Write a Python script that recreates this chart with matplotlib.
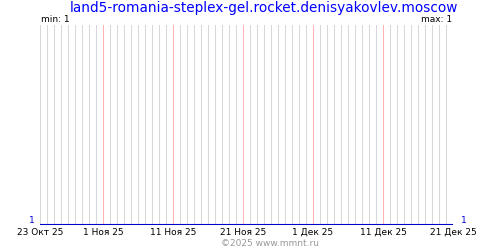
import matplotlib
matplotlib.use("Agg")
import matplotlib.pyplot as plt
import matplotlib.dates as mdates
import numpy as np
import datetime as dt

title = "land5-romania-steplex-gel.rocket.denisyakovlev.moscow"
start = dt.date(2025, 10, 23)
end = dt.date(2025, 12, 21)
dates = [start + dt.timedelta(days=i) for i in range((end - start).days + 1)]
values = [1] * len(dates)
tick_dates = [dt.date(2025, 10, 23), dt.date(2025, 11, 1), dt.date(2025, 11, 11),
              dt.date(2025, 11, 21), dt.date(2025, 12, 1), dt.date(2025, 12, 11),
              dt.date(2025, 12, 21)]
tick_labels = ["23 Окт 25", "1 Ноя 25", "11 Ноя 25", "21 Ноя 25",
               "1 Дек 25", "11 Дек 25", "21 Дек 25"]
min_label = "min: 1"
max_label = "max: 1"
footer = "©2025 www.mmnt.ru"

plt.rcParams['font.family'] = ['DejaVu Sans']
fig = plt.figure(figsize=(5, 2.5), dpi=100)
ax = fig.add_axes([0.08, 0.1, 0.826, 0.8])

for d in dates:
    c = '#ffb4b4' if d.day in (1, 11, 21) else '#d8d8d8'
    ax.axvline(d, color=c, lw=0.75, zorder=1, snap=True)

ax.plot(dates, values, color='#0000cc', lw=1.5, zorder=3, solid_capstyle='butt')
ax.set_xlim(dates[0], dates[-1])
ax.set_ylim(1, 2)
for s in ax.spines.values():
    s.set_visible(False)
ax.set_yticks([])
ax.set_xticks(tick_dates)
ax.set_xticklabels(tick_labels, fontsize=6.5)
ax.tick_params(axis='x', length=0, pad=2)

fig.text(0.527, 0.997, title, color='#0000ff', fontsize=9.8, ha='center', va='top')
fig.text(0.082, 0.903, min_label, fontsize=6.5, ha='left', va='bottom')
fig.text(0.904, 0.903, max_label, fontsize=6.5, ha='right', va='bottom')
fig.text(0.07, 0.1, "1", color='#0000cc', fontsize=6.5, ha='right', va='bottom')
fig.text(0.922, 0.1, "1", color='#0000cc', fontsize=6.5, ha='left', va='bottom')
fig.text(0.54, 0.01, footer, color='#999999', fontsize=6.5, ha='center', va='bottom')

fig.savefig("out.png", dpi=100)
